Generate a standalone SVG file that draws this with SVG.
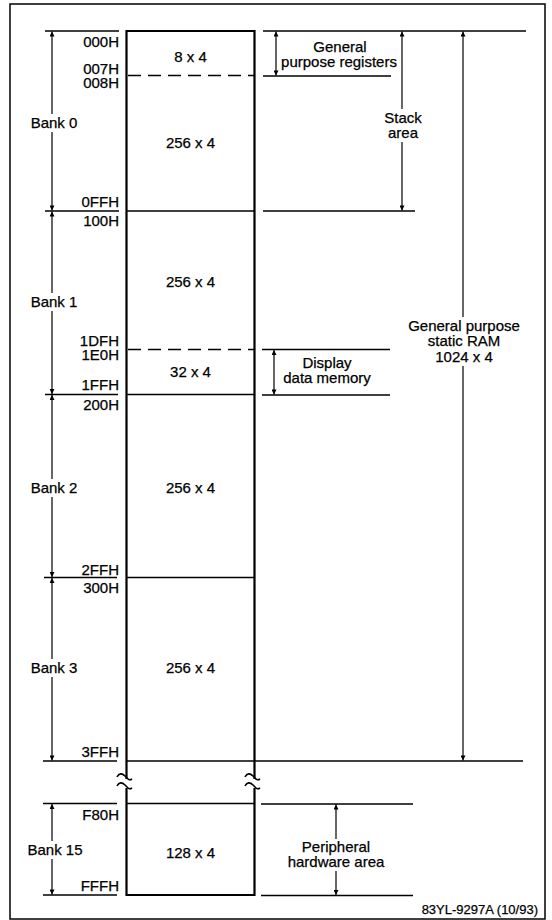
<svg xmlns="http://www.w3.org/2000/svg" width="552" height="920" viewBox="0 0 552 920">
<style>
text{font-family:"Liberation Sans",Arial,Helvetica,sans-serif;font-size:15px;fill:#000;stroke:#000;stroke-width:0.25}
.a{text-anchor:end}
.m{text-anchor:middle}
.ft{font-size:13px;text-anchor:end}
.ln{stroke:#000;stroke-width:1.3;fill:none}
.bx{stroke:#000;stroke-width:2.2;fill:none}
.ds{stroke:#000;stroke-width:1.3;stroke-dasharray:13 7;fill:none}
.ar{stroke:#000;stroke-width:1.2;fill:none;marker-end:url(#ah)}
.brk{stroke:#000;stroke-width:1.6;fill:none}
</style>
<defs>
<marker id="ah" viewBox="0 0 10 10" refX="10" refY="5" markerWidth="7" markerHeight="5" markerUnits="userSpaceOnUse" orient="auto">
<path d="M0,0 L10,5 L0,10 z" fill="#000"/>
</marker>
</defs>
<rect width="552" height="920" fill="#fff"/>
<rect x="10" y="4" width="535" height="915" fill="none" stroke="#000" stroke-width="1.5"/>

<g id="memory-column">
<path class="bx" d="M126.5,779 V31 H254.5 V779"/>
<path class="bx" d="M126.5,788 V895 H254.5 V788"/>
<line class="ln" x1="126.5" y1="211" x2="254.5" y2="211"/>
<line class="ln" x1="126.5" y1="394.5" x2="254.5" y2="394.5"/>
<line class="ln" x1="126.5" y1="577.5" x2="254.5" y2="577.5"/>
<line class="ln" x1="126.5" y1="761" x2="254.5" y2="761"/>
<line class="ln" x1="126.5" y1="803.5" x2="254.5" y2="803.5"/>
<line class="ds" x1="128" y1="75.5" x2="254" y2="75.5"/>
<line class="ds" x1="128" y1="349.5" x2="254" y2="349.5"/>
<path class="brk" d="M117,777 c2,-4 5,-4 8,-1 s4,5 7,3"/>
<path class="brk" d="M117,786 c2,-4 5,-4 8,-1 s4,5 7,3"/>
<path class="brk" d="M245,777 c2,-4 5,-4 8,-1 s4,5 7,3"/>
<path class="brk" d="M245,786 c2,-4 5,-4 8,-1 s4,5 7,3"/>
<text class="m" x="190.5" y="62">8 x 4</text>
<text class="m" x="190.5" y="148">256 x 4</text>
<text class="m" x="190.5" y="287">256 x 4</text>
<text class="m" x="190.5" y="377">32 x 4</text>
<text class="m" x="190.5" y="493">256 x 4</text>
<text class="m" x="190.5" y="673">256 x 4</text>
<text class="m" x="190.5" y="858">128 x 4</text>
</g>

<g id="addresses">
<text class="a" x="119" y="46.5">000H</text>
<text class="a" x="119" y="74">007H</text>
<text class="a" x="119" y="88">008H</text>
<text class="a" x="119" y="207">0FFH</text>
<text class="a" x="119" y="226">100H</text>
<text class="a" x="119" y="346">1DFH</text>
<text class="a" x="119" y="359.5">1E0H</text>
<text class="a" x="119" y="390">1FFH</text>
<text class="a" x="119" y="410">200H</text>
<text class="a" x="119" y="575">2FFH</text>
<text class="a" x="119" y="593">300H</text>
<text class="a" x="119" y="757">3FFH</text>
<text class="a" x="119" y="820">F80H</text>
<text class="a" x="119" y="891">FFFH</text>
</g>

<g id="banks">
<text class="m" x="54" y="128">Bank 0</text>
<text class="m" x="54" y="307">Bank 1</text>
<text class="m" x="54" y="493">Bank 2</text>
<text class="m" x="54" y="673">Bank 3</text>
<text class="m" x="55" y="855">Bank 15</text>
</g>

<g id="labels">
<text class="m" x="340" y="52">General</text>
<text class="m" x="339" y="66.5">purpose registers</text>
<text class="m" x="403" y="123">Stack</text>
<text class="m" x="403" y="137.5">area</text>
<text class="m" x="327" y="368">Display</text>
<text class="m" x="327" y="382.5">data memory</text>
<text class="m" x="464" y="331">General purpose</text>
<text class="m" x="464" y="346">static RAM</text>
<text class="m" x="464" y="361.5">1024 x 4</text>
<text class="m" x="336" y="852">Peripheral</text>
<text class="m" x="336" y="866.5">hardware area</text>
<text class="ft" x="538" y="914">83YL-9297A (10/93)</text>
</g>

<g id="connectors">
<line class="ln" x1="45" y1="31" x2="119" y2="31"/>
<line class="ln" x1="45" y1="211" x2="119" y2="211"/>
<line class="ln" x1="45" y1="394.5" x2="118" y2="394.5"/>
<line class="ln" x1="44" y1="577.5" x2="117" y2="577.5"/>
<line class="ln" x1="43" y1="761" x2="117" y2="761"/>
<line class="ln" x1="43" y1="803.5" x2="117" y2="803.5"/>
<line class="ln" x1="43" y1="895" x2="117" y2="895"/>
<line class="ln" x1="263" y1="31" x2="526" y2="31"/>
<line class="ln" x1="263" y1="76" x2="391" y2="76"/>
<line class="ln" x1="263" y1="211" x2="415" y2="211"/>
<line class="ln" x1="262" y1="349.5" x2="390" y2="349.5"/>
<line class="ln" x1="262" y1="395" x2="390" y2="395"/>
<line class="ln" x1="254" y1="761" x2="523" y2="761"/>
<line class="ln" x1="261" y1="804" x2="413" y2="804"/>
<line class="ln" x1="261" y1="895.5" x2="413" y2="895.5"/>
<line class="ar" x1="52" y1="114" x2="52" y2="31.5"/>
<line class="ar" x1="52" y1="132" x2="52" y2="210.5"/>
<line class="ar" x1="52" y1="293" x2="52" y2="211.5"/>
<line class="ar" x1="52" y1="311" x2="52" y2="394"/>
<line class="ar" x1="52" y1="479" x2="52" y2="395"/>
<line class="ar" x1="52" y1="497" x2="52" y2="577"/>
<line class="ar" x1="52" y1="659" x2="52" y2="578"/>
<line class="ar" x1="52" y1="677" x2="52" y2="760.5"/>
<line class="ar" x1="52" y1="841" x2="52" y2="804"/>
<line class="ar" x1="52" y1="859" x2="52" y2="894.5"/>
<line class="ar" x1="276" y1="54" x2="276" y2="31.5"/>
<line class="ar" x1="276" y1="54" x2="276" y2="75.5"/>
<line class="ar" x1="402" y1="109" x2="402" y2="31.5"/>
<line class="ar" x1="402" y1="142" x2="402" y2="210.5"/>
<line class="ar" x1="463" y1="317" x2="463" y2="31.5"/>
<line class="ar" x1="463" y1="366" x2="463" y2="760.5"/>
<line class="ar" x1="274" y1="372" x2="274" y2="350"/>
<line class="ar" x1="274" y1="372" x2="274" y2="394.5"/>
<line class="ar" x1="336" y1="839" x2="336" y2="804.5"/>
<line class="ar" x1="336" y1="871" x2="336" y2="895"/>
</g>
</svg>
